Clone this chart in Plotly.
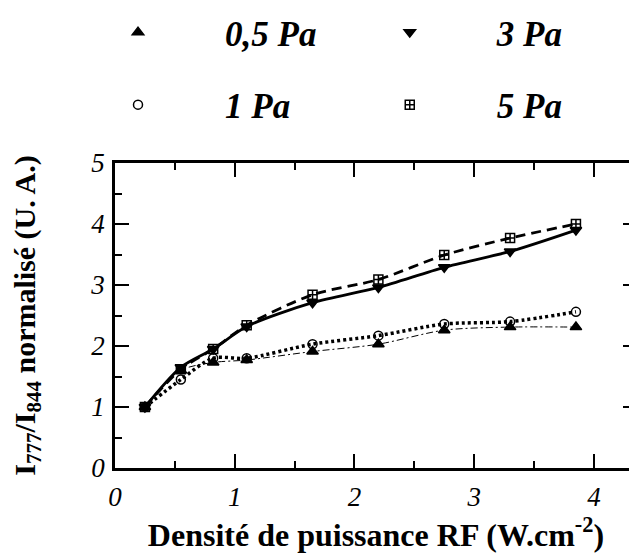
import plotly.graph_objects as go

# RF power density (W.cm-2)
density = [0.25, 0.55, 0.82, 1.1, 1.65, 2.2, 2.75, 3.3, 3.85]

# normalised I777/I844 ratio, one list per pressure
p_05 = [1.0, 1.60, 1.73, 1.77, 1.91, 2.03, 2.26, 2.31, 2.31]
p_1 = [1.0, 1.45, 1.80, 1.80, 2.03, 2.17, 2.36, 2.40, 2.56]
p_3 = [1.0, 1.65, 1.95, 2.32, 2.71, 2.96, 3.29, 3.55, 3.90]
p_5 = [1.0, 1.62, 1.95, 2.34, 2.84, 3.09, 3.49, 3.77, 4.00]

SERIF = "Liberation Serif"

# (name, values, symbol, marker size, line dash, line width, legend)
series = [
    ("0,5 Pa", p_05, "triangle-up", 10, "7px,3px,2px,3px", 1, "legend"),
    ("1 Pa", p_1, "circle-open", 9, "3px,3px", 3.5, "legend"),
    ("3 Pa", p_3, "triangle-down", 10, "solid", 2.8, "legend2"),
    ("5 Pa", p_5, "square-cross-open", 9, "10px,6px", 2.8, "legend2"),
]

fig = go.Figure()

for name, vals, sym, msize, dash, lw, leg in series:
    # smooth curve through the points
    fig.add_trace(go.Scatter(
        x=density, y=vals, mode="lines",
        line=dict(color="black", width=lw, dash=dash, shape="spline", smoothing=0.8),
        showlegend=False, hoverinfo="skip",
    ))
    # the measured points (these carry the legend entry)
    fig.add_trace(go.Scatter(
        x=density, y=vals, mode="markers", name=name,
        marker=dict(symbol=sym, size=msize, color="black",
                    line=dict(color="black", width=1.5)),
        legend=leg, legendgroup=name,
    ))

axis_common = dict(
    showline=True, linecolor="black", linewidth=2.5, mirror="ticks",
    ticks="inside", ticklen=14, tickwidth=2, tickcolor="black",
    minor=dict(ticks="inside", ticklen=7, tickwidth=2, tickcolor="black", dtick=0.5),
    showgrid=False, zeroline=False, automargin=False,
    tickfont=dict(family=SERIF, size=27, style="italic", color="black"),
)

fig.update_xaxes(
    range=[0, 4.36], dtick=1, ticklabelstandoff=3,
    title=dict(text="Densité de puissance RF (W.cm<sup>-2</sup>)",
               font=dict(family=SERIF, size=32, weight="bold", color="black"),
               standoff=5),
    **axis_common,
)
fig.update_yaxes(
    range=[0, 5], dtick=1, ticklabelstandoff=2,
    title=dict(text="I<sub>777</sub>/I<sub>844</sub> normalisé (U. A.)",
               font=dict(family=SERIF, size=30, weight="bold", color="black"),
               standoff=60),
    **axis_common,
)

legend_common = dict(
    orientation="v", yanchor="top", xanchor="left",
    itemwidth=164, tracegroupgap=24,
    font=dict(family=SERIF, size=35, style="italic", weight="bold", color="black"),
    bgcolor="rgba(0,0,0,0)",
)

# page body adds an 8px offset, so the figure is 8px smaller than the window
fig.update_layout(
    width=629, height=550,
    margin=dict(l=107, r=0, t=155, b=90, autoexpand=False),
    paper_bgcolor="white", plot_bgcolor="white",
    legend=dict(x=-0.1226, y=1.525, **legend_common),
    legend2=dict(x=0.398, y=1.525, **legend_common),
)

fig.write_html("out.html")
